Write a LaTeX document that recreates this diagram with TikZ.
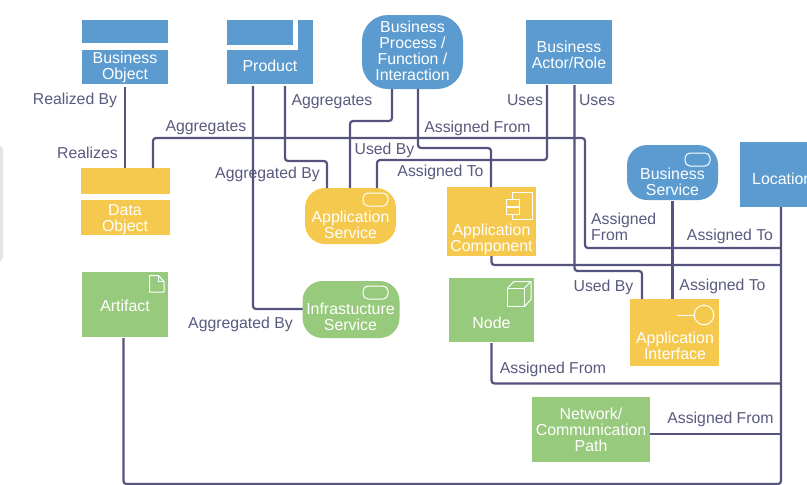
\documentclass[tikz,border=0pt]{standalone}
\usepackage{fontspec}
\setmainfont{Liberation Sans}
\definecolor{bizblue}{HTML}{5B9BCF}
\definecolor{appyellow}{HTML}{F5C94E}
\definecolor{techgreen}{HTML}{98CA7D}
\definecolor{linkcol}{HTML}{54547E}
\definecolor{labelcol}{HTML}{5A5A80}
\definecolor{edgegray}{HTML}{E4E4E9}
\tikzset{
  box/.style={rectangle,inner sep=0pt,outer sep=0pt,minimum width=#1},
  blue/.style={fill=bizblue,draw=none},
  yellow/.style={fill=appyellow,draw=none},
  green/.style={fill=techgreen,draw=none},
  boxtext/.style={text=white,font=\fontsize{15.9}{16}\selectfont,align=center,inner sep=0pt},
  linklabel/.style={text=labelcol,font=\fontsize{15.8}{16}\selectfont,align=left,inner sep=0pt},
  conn/.style={draw=linkcol,line width=2.2pt,rounded corners=3pt},
  icon/.style={draw=white,line width=1pt},
}
\begin{document}
\begin{tikzpicture}[x=1pt,y=-1pt]
\useasboundingbox (0,0) rectangle (807,485);
\fill[white] (0,0) rectangle (807,485);
\fill[edgegray,rounded corners=5pt] (-12,145) rectangle (3,262);

% ---- boxes
\node[box=86pt,minimum height=23pt,blue] (bo-top) at (125,31.5) {};
\node[box=86pt,minimum height=34pt,blue] (bo) at (125,67) {};
\node[box=86pt,minimum height=34pt,blue] (prod) at (270,67) {};
\node[box=66pt,minimum height=25pt,blue] (prod-top) at (260,32.5) {};
\node[box=15pt,minimum height=32pt,blue] (prod-side) at (305.5,36) {};
\node[box=101pt,minimum height=74pt,blue,rounded corners=26pt] (proc) at (412.5,52) {};
\node[box=86pt,minimum height=64pt,blue] (actor) at (569,52) {};
\node[box=89pt,minimum height=26pt,yellow] (do-top) at (125.5,181) {};
\node[box=89pt,minimum height=35pt,yellow] (do) at (125.5,217.5) {};
\node[box=91pt,minimum height=56pt,yellow,rounded corners=20pt] (as) at (350.5,216) {};
\node[box=89pt,minimum height=69pt,yellow] (comp) at (491.5,221.5) {};
\node[box=91pt,minimum height=55pt,blue,rounded corners=20pt] (bs) at (672.5,172.5) {};
\node[box=82pt,minimum height=65pt,blue] (loc) at (781,174.5) {};
\node[box=86pt,minimum height=65pt,green] (art) at (125,304.5) {};
\node[box=97pt,minimum height=57pt,green,rounded corners=20pt] (is) at (351,309.5) {};
\node[box=85pt,minimum height=64pt,green] (nd) at (491.5,310) {};
\node[box=89pt,minimum height=67pt,yellow] (ai) at (674.5,332.5) {};
\node[box=118pt,minimum height=65pt,green] (net) at (591,429.5) {};

% ---- box texts
\node[boxtext] (bo-t) at (125,67.5) {Business\\Object};
\node[boxtext] (prod-t) at (270,65.5) {Product};
\node[boxtext] (proc-t) at (412.5,50.5) {Business\\Process /\\Function /\\Interaction};
\node[boxtext] (actor-t) at (569,54.5) {Business\\Actor/Role};
\node[boxtext] (do-t) at (125,219.5) {Data\\Object};
\node[boxtext] (as-t) at (350.5,224.5) {Application\\Service};
\node[boxtext] (comp-t) at (491.5,239) {Application\\Component};
\node[boxtext] (bs-t) at (672.5,181.5) {Business\\Service};
\node[boxtext,anchor=west] (loc-t) at (752,178.5) {Location};
\node[boxtext] (art-t) at (125,305.5) {Artifact};
\node[boxtext] (is-t) at (350.5,316.5) {Infrastucture\\Service};
\node[boxtext] (nd-t) at (491.5,322.5) {Node};
\node[boxtext] (ai-t) at (675,345.5) {Application\\Interface};
\node[boxtext] (net-t) at (591,429.5) {Network/\\Communication\\Path};

% ---- icons
\draw[icon,rounded corners=5pt] (363,193) rectangle (388,206);
\draw[icon,rounded corners=5pt] (685,153) rectangle (710,166);
\draw[icon,rounded corners=5pt] (363,286) rectangle (388,299);
\draw[icon] (512,192) rectangle (532,219.5);
\draw[icon,fill=appyellow] (506.5,199) rectangle (519,206);
\draw[icon,fill=appyellow] (506.5,207) rectangle (519,214);
\draw[icon,line join=round] (149.5,275.5) -- (158.5,275.5) -- (164,281.5) -- (164,292) -- (149.5,292) -- cycle;
\draw[icon] (158.5,275.5) -- (158.5,281.5) -- (164,281.5);
\draw[icon] (507.5,288) rectangle (524.5,306.5);
\draw[icon,line join=round] (507.5,288) -- (514,281.5) -- (531,281.5) -- (531,299.5) -- (524.5,306.5);
\draw[icon] (524.5,288) -- (531,281.5);
\draw[icon] (677,315) -- (694,315);
\draw[icon] (704,315) circle (9.8pt);

% ---- connectors
\draw[conn,shorten <=2.5pt] (bo.south) -- (bo.south |- do-top.north);
\draw[conn,shorten <=2pt] (253,0 |- prod.south) -- (253,309) -- (is.west |- 0,309);
\draw[conn,shorten <=2pt] (285,0 |- prod.south) -- (285,161) -- (327,161) -- (327,0 |- as.north);
\draw[conn] (153,0 |- do-top.north) -- (153,138) -- (585,138) -- (585,248) -- (loc.south |- 0,248);
\draw[conn] (392,0 |- proc.south) -- (392,121) -- (350,121) -- (350,0 |- as.north);
\draw[conn] (418,0 |- proc.south) -- (418,148) -- (491,148) -- (491,0 |- comp.north);
\draw[conn,shorten <=1pt] (547,0 |- actor.south) -- (547,160) -- (377,160) -- (377,0 |- as.north);
\draw[conn,shorten <=1pt] (574.5,0 |- actor.south) -- (574.5,271) -- (642,271) -- (642,0 |- ai.north);
\draw[conn,shorten <=1pt] (bs.south) -- (bs.south |- ai.north);
\draw[conn] (comp.south) -- (491.5,265) -- (loc.south |- 0,265);
\draw[conn,shorten <=1pt] (nd.south) -- (491.5,383.5) -- (loc.south |- 0,383.5);
\draw[conn] (net.east |- 0,434) -- (loc.south |- 0,434);
\draw[conn,shorten <=1pt] (123.5,0 |- art.south) -- (123.5,484) -- (loc.south |- 0,484) -- (loc.south);

% ---- connector labels
\node[linklabel] (l1) at (75,100.5) {Realized By};
\node[linklabel] (l2) at (87.5,153) {Realizes};
\node[linklabel] (l3) at (206,128) {Aggregates};
\node[linklabel] (l4) at (332,102) {Aggregates};
\node[linklabel] (l5) at (267.5,174) {Aggregated By};
\node[linklabel] (l6) at (384.5,150.5) {Used By};
\node[linklabel] (l7) at (477.5,128) {Assigned From};
\node[linklabel] (l8) at (440.5,172.5) {Assigned To};
\node[linklabel] (l9) at (525,100) {Uses};
\node[linklabel] (l10) at (597,100) {Uses};
\node[linklabel,anchor=west] (l11) at (591,227) {Assigned\\From};
\node[linklabel] (l12) at (730,236) {Assigned To};
\node[linklabel] (l13) at (603.5,287) {Used By};
\node[linklabel] (l14) at (722.5,286) {Assigned To};
\node[linklabel] (l15) at (240.5,324) {Aggregated By};
\node[linklabel] (l16) at (553,369) {Assigned From};
\node[linklabel] (l17) at (720.5,419) {Assigned From};
\end{tikzpicture}
\end{document}
